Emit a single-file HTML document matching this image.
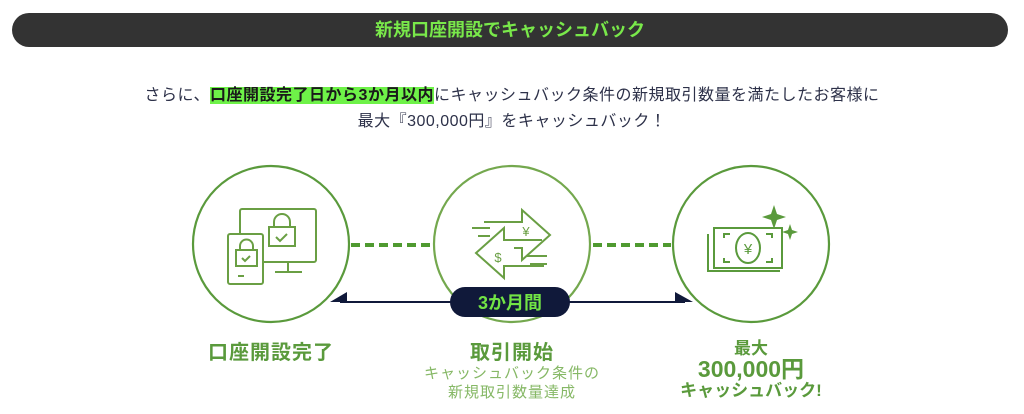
<!DOCTYPE html>
<html><head><meta charset="utf-8"><style>
body{margin:0;width:1024px;height:414px;background:#fff;position:relative;overflow:hidden;font-family:"Liberation Sans","Noto Sans CJK JP",sans-serif}
.bar{position:absolute;left:12px;top:13px;width:996px;height:34px;border-radius:17px;background:#333;color:#79e84a;font-weight:bold;font-size:18px;text-align:center;line-height:34px}
.t{position:absolute;left:0;width:1024px;text-align:center;color:#2d3149;font-size:16px;letter-spacing:0.5px}
.hl{background:#6ef248;font-weight:bold;color:#1a1a1a}
.lb{position:absolute;text-align:center;color:#5a9a3c;font-weight:bold}
</style></head><body>
<div class="bar">新規口座開設でキャッシュバック</div>
<div class="t" style="top:81px">さらに、<span class="hl">口座開設完了日から3か月以内</span>にキャッシュバック条件の新規取引数量を満たしたお客様に</div>
<div class="t" style="top:107px">最大『300,000円』をキャッシュバック！</div>
<svg style="position:absolute;left:0;top:0" width="1024" height="414">
<g fill="none" stroke="#5a9a3c" stroke-width="2.2">
<circle cx="271" cy="244" r="78"/><circle cx="512" cy="244" r="78" stroke="#74a84e"/><circle cx="751" cy="244" r="78"/>
</g>
<g stroke="#4f9a30" stroke-width="4" stroke-dasharray="9,5"><line x1="351" y1="245" x2="432" y2="245"/><line x1="593" y1="245" x2="671" y2="245"/></g>
<line x1="340" y1="302" x2="685" y2="302" stroke="#10193a" stroke-width="2"/>
<polygon points="330,302 347,292 347,302" fill="#10193a"/>
<polygon points="693,302 675,292 675,302" fill="#10193a"/>
<rect x="450" y="287" width="120" height="30" rx="15" fill="#10193a"/>
<text x="510" y="309" text-anchor="middle" font-size="18" font-weight="bold" fill="#72e445" font-family="Liberation Sans,Noto Sans CJK JP,sans-serif">3か月間</text>
<g fill="none" stroke="#6a9f44" stroke-width="2">
<rect x="240" y="209" width="76" height="53" rx="2"/><line x1="288" y1="262" x2="288" y2="272"/><line x1="275" y1="272" x2="302" y2="272"/>
<rect x="228" y="234" width="35" height="50" rx="2" fill="#fff"/><line x1="238" y1="276" x2="244" y2="276"/>
<rect x="269" y="227" width="26" height="19"/><path d="M274 227v-5a8 8 0 0 1 16 0v5"/><path d="M276 237l4 4 7-7"/>
<rect x="236" y="250" width="21" height="16"/><path d="M240 250v-4a6 6 0 0 1 13 0v4"/><path d="M242 258l3 3 5-5"/>
</g>
<g fill="none" stroke="#6a9f44" stroke-width="2">
<path d="M484 222h38v-12l28 25-28 25v-12h-8"/><path d="M542 240h-38v-12l-28 25 28 25v-12h40"/>
<line x1="472" y1="228" x2="490" y2="228"/><line x1="478" y1="236" x2="490" y2="236"/><line x1="527" y1="256" x2="547" y2="256"/><line x1="530" y1="264" x2="547" y2="264"/>
</g>
<text x="526" y="236" font-size="13" fill="#6a9f44" text-anchor="middle">¥</text>
<text x="498" y="262" font-size="13" fill="#6a9f44" text-anchor="middle">$</text>
<g fill="none" stroke="#5a9a3c" stroke-width="2">
<rect x="714" y="228" width="68" height="40"/><path d="M708 234v37h72"/>
<path d="M724 238v-4h6M724 258v4h6M772 238v-4h-6M772 258v4h-6"/>
<ellipse cx="748" cy="248" rx="12" ry="15"/>
</g>
<text x="748" y="254" font-size="15" fill="#5a9a3c" text-anchor="middle">¥</text>
<path d="M774 205l3 9 9 3-9 3-3 9-3-9-9-3 9-3z" fill="#5a9a3c"/>
<path d="M790 224l2 6 6 2-6 2-2 6-2-6-6-2 6-2z" fill="#5a9a3c"/>
</svg>
<div class="lb" style="left:171px;width:200px;top:336px;font-size:20px;letter-spacing:1px">口座開設完了</div>
<div class="lb" style="left:412px;width:200px;top:336px;font-size:20px;letter-spacing:1px">取引開始</div>
<div class="lb" style="left:400px;width:224px;top:364px;font-size:15px;font-weight:normal;color:#86b866;line-height:19px;letter-spacing:1px">キャッシュバック条件の<br>新規取引数量達成</div>
<div class="lb" style="left:651px;width:200px;top:339px;font-size:17px;line-height:19px">最大<br><span style="font-size:23px;line-height:22px">300,000円</span><br>キャッシュバック!</div>
</body></html>
